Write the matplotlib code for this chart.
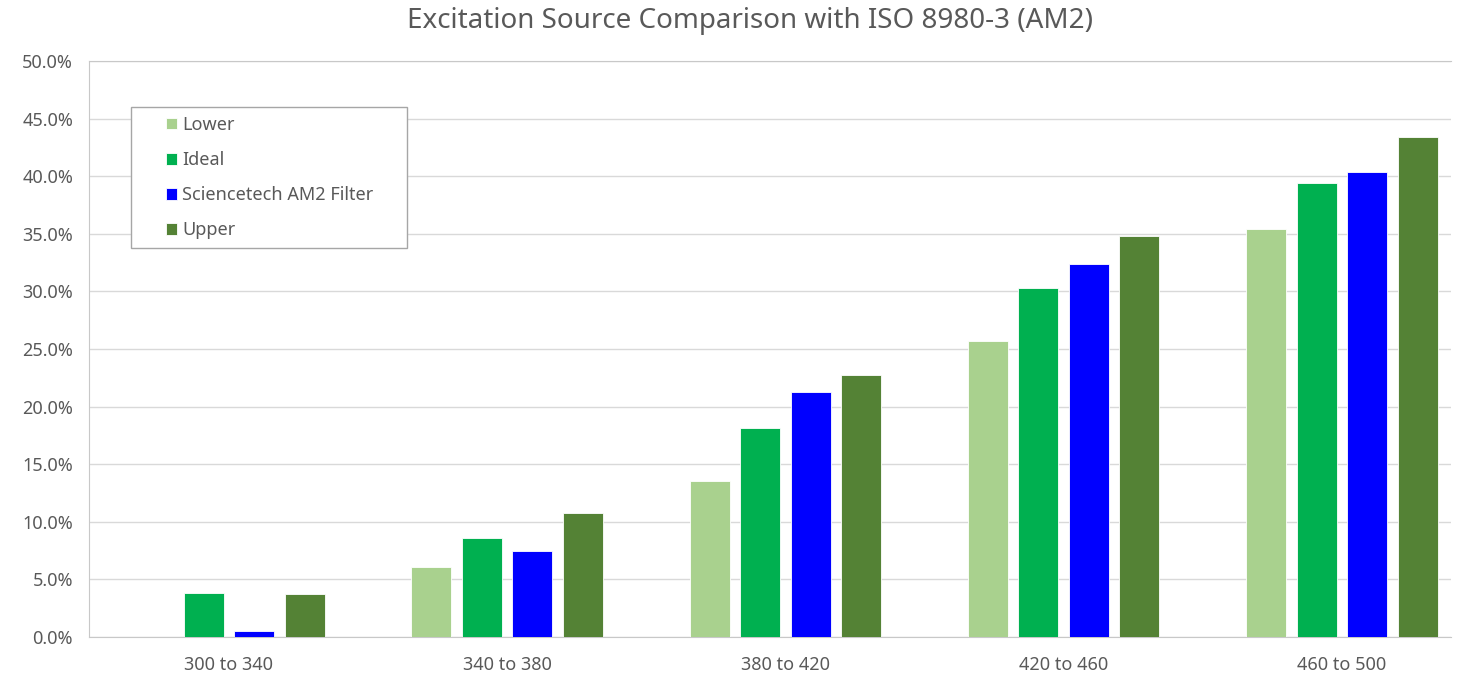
import matplotlib
matplotlib.use("Agg")
import matplotlib.pyplot as plt
import numpy as np
from matplotlib.ticker import FuncFormatter, MultipleLocator
from matplotlib.patches import Rectangle
from matplotlib.transforms import IdentityTransform

categories = ["300 to 340", "340 to 380", "380 to 420", "420 to 460", "460 to 500"]
lower = [0.0, 6.1, 13.5, 25.7, 35.4]
ideal = [3.8, 8.6, 18.1, 30.3, 39.4]
sciencetech = [0.5, 7.5, 21.3, 32.4, 40.4]
upper = [3.7, 10.8, 22.7, 34.8, 43.4]
series_names = ["Lower", "Ideal", "Sciencetech AM2 Filter", "Upper"]
colors = ["#A9D18E", "#00B050", "#0000FF", "#548235"]

plt.rcParams['font.family'] = ['Noto Sans', 'DejaVu Sans']
W, H = 1461, 675
fig = plt.figure(figsize=(W / 100, H / 100), dpi=100)
ax = fig.add_axes([89 / W, 38 / H, (1451 - 89) / W, (637 - 61) / H])

x = np.arange(len(categories))
step = 0.1815
width = 0.144
for i, (name, vals, c) in enumerate(zip(series_names, [lower, ideal, sciencetech, upper], colors)):
    ax.bar(x + (i - 1.5) * step, vals, width=width, color=c, label=name,
           edgecolor="white", linewidth=0.6, zorder=3)

ax.set_xlim(-0.503, 4.392)
ax.set_ylim(0, 50)
ax.yaxis.set_major_locator(MultipleLocator(5))
ax.yaxis.set_major_formatter(FuncFormatter(lambda v, p: f"{v:.1f}%"))
ax.grid(axis="y", color="#D9D9D9", linewidth=1, zorder=0)
ax.set_xticks(x)
ax.set_xticklabels(categories)
ax.tick_params(axis="both", length=0, labelsize=13, colors="#595959")
ax.tick_params(axis="x", pad=14)
ax.tick_params(axis="y", pad=11.5)
ax.spines["right"].set_visible(False)
ax.spines["top"].set_color("#C8C8C8")
ax.spines["left"].set_color("#C8C8C8")
ax.spines["bottom"].set_color("#C8C8C8")

fig.text(750 / W, 1 - 21 / H, "Excitation Source Comparison with ISO 8980-3 (AM2)",
         fontsize=20, color="#595959", ha="center", va="center")

# legend frame (figure pixel coordinates)
frame = Rectangle((131, H - 248), 407 - 131, 248 - 107, transform=IdentityTransform(),
                  facecolor="white", edgecolor="#A6A6A6", linewidth=1, zorder=10)
ax.add_artist(frame)

leg = ax.legend(loc="upper left", bbox_to_anchor=((166 - 89) / (1451 - 89), (637 - 116) / 576),
                fontsize=13, frameon=False,
                handlelength=0.6, handleheight=0.6, handletextpad=0.3,
                labelspacing=0.95, borderpad=0, borderaxespad=0)
leg.set_zorder(20)
for t in leg.get_texts():
    t.set_color("#595959")

fig.savefig("out.png", dpi=100, facecolor="white")
